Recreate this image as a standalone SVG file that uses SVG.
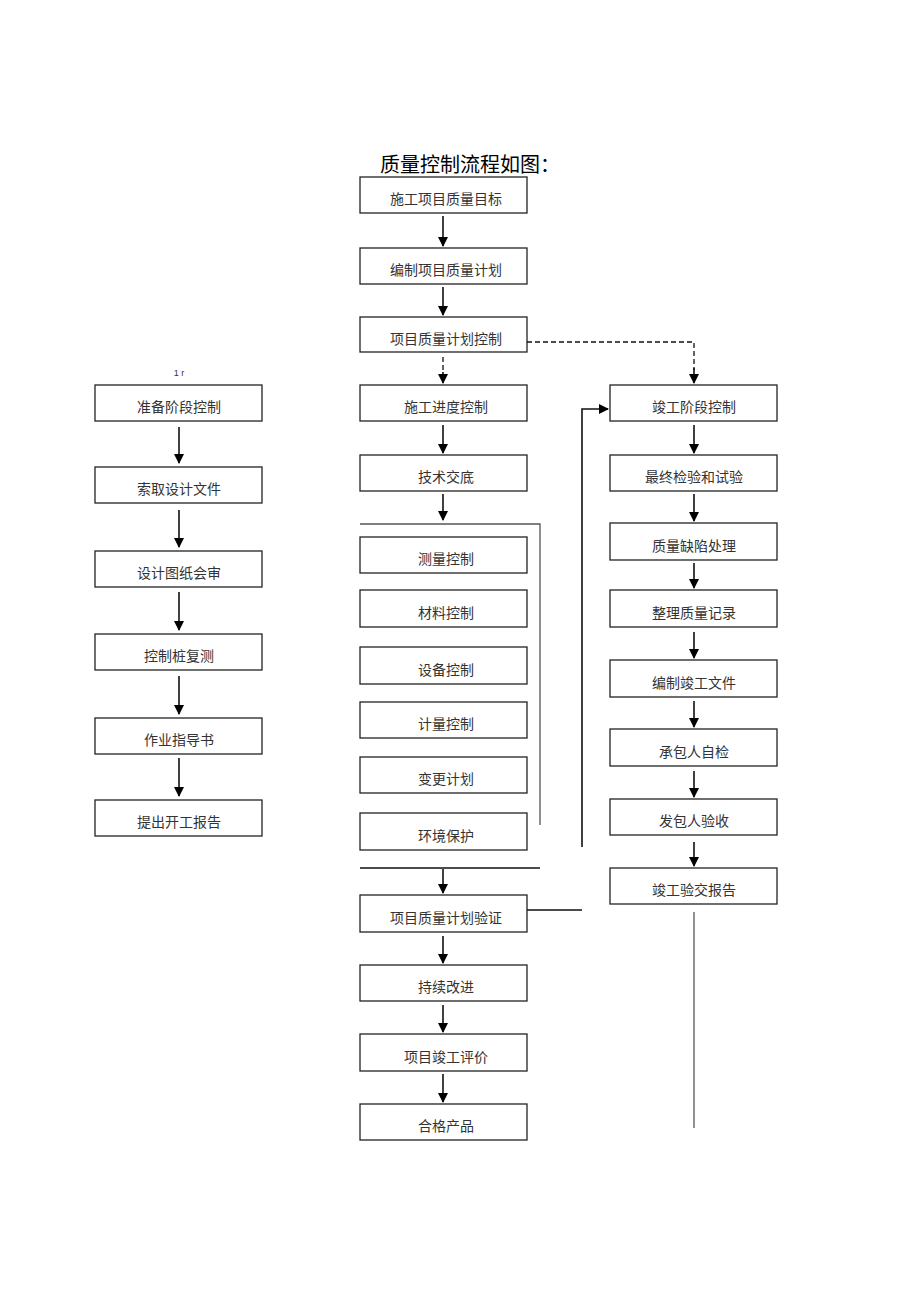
<svg xmlns="http://www.w3.org/2000/svg" width="920" height="1302" viewBox="0 0 920 1302">
<defs>
<marker id="ah" markerWidth="10" markerHeight="10" refX="9" refY="5" orient="auto" markerUnits="userSpaceOnUse">
<path d="M0,0 L10,5 L0,10 Z" fill="#000"/>
</marker>
<style>
.box{fill:#fff;stroke:#222;stroke-width:1.3}
.t{font-family:"Noto Sans CJK SC",sans-serif;font-size:14px;fill:#333;text-anchor:middle}
.c{stroke:#111;stroke-width:1.6;fill:none}
.d{stroke:#111;stroke-width:1.3;fill:none;stroke-dasharray:5,3}
.g{stroke:#555;stroke-width:1.3;fill:none}
</style>
</defs>
<rect width="920" height="1302" fill="#fff"/>
<text x="470" y="172" font-family="Noto Sans CJK SC, sans-serif" font-size="20" fill="#000" text-anchor="middle">质量控制流程如图：</text>
<text x="179" y="376" font-family="Liberation Sans, sans-serif" font-size="9" fill="#333" text-anchor="middle">1 r</text>

<g id="n1"><rect class="box" x="360" y="177" width="167" height="36"/><text class="t" x="446" y="204">施工项目质量目标</text></g>
<g id="n2"><rect class="box" x="360" y="248" width="167" height="36"/><text class="t" x="446" y="275">编制项目质量计划</text></g>
<g id="n3"><rect class="box" x="360" y="317" width="167" height="35"/><text class="t" x="446" y="344">项目质量计划控制</text></g>
<g id="n4"><rect class="box" x="360" y="385" width="167" height="36"/><text class="t" x="446" y="412">施工进度控制</text></g>
<g id="n5"><rect class="box" x="360" y="455" width="167" height="36"/><text class="t" x="446" y="482">技术交底</text></g>
<g id="n6"><rect class="box" x="360" y="537" width="167" height="36"/><text class="t" x="446" y="564">测量控制</text></g>
<g id="n7"><rect class="box" x="360" y="590" width="167" height="37"/><text class="t" x="446" y="618">材料控制</text></g>
<g id="n8"><rect class="box" x="360" y="647" width="167" height="37"/><text class="t" x="446" y="675">设备控制</text></g>
<g id="n9"><rect class="box" x="360" y="702" width="167" height="36"/><text class="t" x="446" y="729">计量控制</text></g>
<g id="n10"><rect class="box" x="360" y="757" width="167" height="36"/><text class="t" x="446" y="784">变更计划</text></g>
<g id="n11"><rect class="box" x="360" y="813" width="167" height="37"/><text class="t" x="446" y="841">环境保护</text></g>
<g id="n12"><rect class="box" x="360" y="895" width="167" height="37"/><text class="t" x="446" y="923">项目质量计划验证</text></g>
<g id="n13"><rect class="box" x="360" y="965" width="167" height="36"/><text class="t" x="446" y="992">持续改进</text></g>
<g id="n14"><rect class="box" x="360" y="1034" width="167" height="37"/><text class="t" x="446" y="1062">项目竣工评价</text></g>
<g id="n15"><rect class="box" x="360" y="1104" width="167" height="36"/><text class="t" x="446" y="1131">合格产品</text></g>

<g id="l1"><rect class="box" x="95" y="385" width="167" height="36"/><text class="t" x="179" y="412">准备阶段控制</text></g>
<g id="l2"><rect class="box" x="95" y="467" width="167" height="36"/><text class="t" x="179" y="494">索取设计文件</text></g>
<g id="l3"><rect class="box" x="95" y="551" width="167" height="36"/><text class="t" x="179" y="578">设计图纸会审</text></g>
<g id="l4"><rect class="box" x="95" y="634" width="167" height="36"/><text class="t" x="179" y="661">控制桩复测</text></g>
<g id="l5"><rect class="box" x="95" y="718" width="167" height="36"/><text class="t" x="179" y="745">作业指导书</text></g>
<g id="l6"><rect class="box" x="95" y="800" width="167" height="36"/><text class="t" x="179" y="827">提出开工报告</text></g>

<g id="r1"><rect class="box" x="610" y="385" width="167" height="36"/><text class="t" x="694" y="412">竣工阶段控制</text></g>
<g id="r2"><rect class="box" x="610" y="455" width="167" height="36"/><text class="t" x="694" y="482">最终检验和试验</text></g>
<g id="r3"><rect class="box" x="610" y="523" width="167" height="37"/><text class="t" x="694" y="551">质量缺陷处理</text></g>
<g id="r4"><rect class="box" x="610" y="590" width="167" height="37"/><text class="t" x="694" y="618">整理质量记录</text></g>
<g id="r5"><rect class="box" x="610" y="660" width="167" height="37"/><text class="t" x="694" y="688">编制竣工文件</text></g>
<g id="r6"><rect class="box" x="610" y="729" width="167" height="37"/><text class="t" x="694" y="757">承包人自检</text></g>
<g id="r7"><rect class="box" x="610" y="799" width="167" height="36"/><text class="t" x="694" y="826">发包人验收</text></g>
<g id="r8"><rect class="box" x="610" y="868" width="167" height="36"/><text class="t" x="694" y="895">竣工验交报告</text></g>

<g id="connectors">
<line class="c" x1="443" y1="216" x2="443" y2="246" marker-end="url(#ah)"/>
<line class="c" x1="443" y1="287" x2="443" y2="315" marker-end="url(#ah)"/>
<line class="d" x1="443" y1="357" x2="443" y2="372"/>
<line class="c" x1="443" y1="372" x2="443" y2="383" marker-end="url(#ah)"/>
<line class="c" x1="443" y1="425" x2="443" y2="453" marker-end="url(#ah)"/>
<line class="c" x1="443" y1="494" x2="443" y2="520" marker-end="url(#ah)"/>
<polyline class="g" points="360,524 540,524 540,825"/>
<line class="c" x1="360" y1="868" x2="540" y2="868"/>
<line class="c" x1="443" y1="869" x2="443" y2="893" marker-end="url(#ah)"/>
<line class="c" x1="443" y1="936" x2="443" y2="963" marker-end="url(#ah)"/>
<line class="c" x1="443" y1="1005" x2="443" y2="1032" marker-end="url(#ah)"/>
<line class="c" x1="443" y1="1074" x2="443" y2="1102" marker-end="url(#ah)"/>
<polyline class="d" points="527,342 694,342 694,370"/>
<line class="c" x1="694" y1="368" x2="694" y2="383" marker-end="url(#ah)"/>
<polyline class="c" points="582,847 582,409 608,409" marker-end="url(#ah)"/>
<line class="c" x1="527" y1="910" x2="582" y2="910"/>
<line class="c" x1="694" y1="425" x2="694" y2="453" marker-end="url(#ah)"/>
<line class="c" x1="694" y1="494" x2="694" y2="521" marker-end="url(#ah)"/>
<line class="c" x1="694" y1="563" x2="694" y2="588" marker-end="url(#ah)"/>
<line class="c" x1="694" y1="632" x2="694" y2="658" marker-end="url(#ah)"/>
<line class="c" x1="694" y1="701" x2="694" y2="727" marker-end="url(#ah)"/>
<line class="c" x1="694" y1="771" x2="694" y2="797" marker-end="url(#ah)"/>
<line class="c" x1="694" y1="842" x2="694" y2="866" marker-end="url(#ah)"/>
<line class="g" x1="694" y1="912" x2="694" y2="1128"/>
<line class="c" x1="179" y1="427" x2="179" y2="463" marker-end="url(#ah)"/>
<line class="c" x1="179" y1="510" x2="179" y2="547" marker-end="url(#ah)"/>
<line class="c" x1="179" y1="592" x2="179" y2="630" marker-end="url(#ah)"/>
<line class="c" x1="179" y1="676" x2="179" y2="714" marker-end="url(#ah)"/>
<line class="c" x1="179" y1="758" x2="179" y2="796" marker-end="url(#ah)"/>
</g>
</svg>
